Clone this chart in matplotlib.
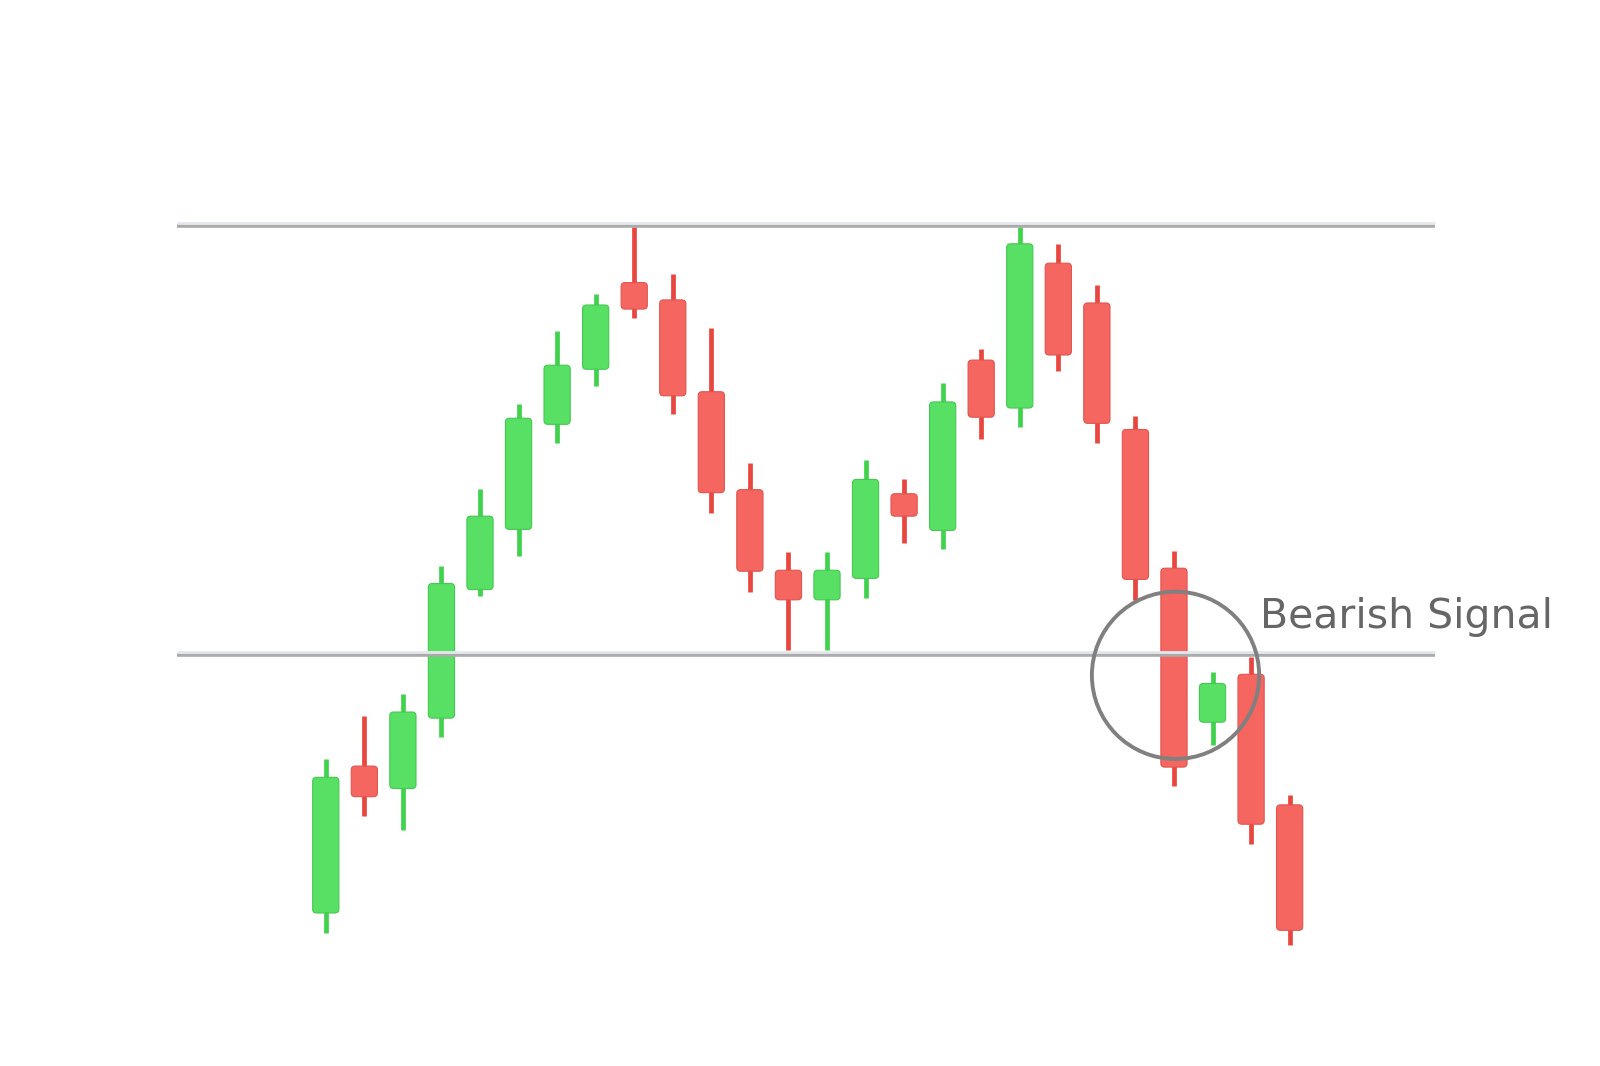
import numpy as np
import matplotlib.pyplot as plt
from matplotlib.patches import FancyBboxPatch, Ellipse

# candle data (price units)
opens  = [15.0, 29.4, 27.2, 34.1, 46.7, 52.6, 62.9, 68.3, 76.8, 75.1,
          66.1, 56.5, 48.6, 45.7, 47.8, 56.1, 52.5, 69.2, 64.5, 78.7,
          74.8, 62.4, 48.8, 33.7, 38.4, 25.6]
closes = [28.3, 26.4, 34.7, 47.3, 53.9, 63.5, 68.7, 74.6, 74.2, 65.7,
          56.2, 48.5, 45.7, 48.6, 57.5, 53.9, 65.1, 63.6, 80.6, 69.7,
          63.0, 47.7, 29.3, 37.5, 23.7, 13.3]
highs  = [30.1, 34.3, 36.5, 49.0, 56.6, 64.9, 72.1, 75.7, 82.2, 77.6,
          72.3, 59.1, 50.4, 50.4, 59.4, 57.5, 67.0, 70.3, 82.2, 80.6,
          76.6, 63.7, 50.5, 38.6, 40.1, 26.6]
lows   = [13.0, 24.5, 23.1, 32.3, 46.1, 50.0, 61.1, 66.7, 73.3, 63.9,
          54.2, 46.5, 40.8, 40.8, 45.9, 51.3, 50.7, 61.5, 62.6, 68.1,
          61.1, 45.7, 27.4, 31.5, 21.8, 11.9]

resistance = 82.5
support = 40.4
signal_label = "Bearish Signal"

green, green_wick, green_edge = "#57e063", "#40d24d", "#45c852"
red, red_wick, red_edge = "#f4665f", "#e8463f", "#e05550"

fig = plt.figure(figsize=(16, 10.66), dpi=100)
ax = fig.add_axes([0, 0, 1, 1])
ax.set_xlim(-8.45, 33.05)
ax.set_ylim(0, 104.5)
ax.axis("off")

# pixels per data unit, so the rounded corners look round
p0 = ax.transData.transform((0, 0))
p1 = ax.transData.transform((1, 1))
aspect = (p1[0] - p0[0]) / (p1[1] - p0[1])

x = np.arange(len(opens))
width = 0.68
for i in x:
    up = closes[i] >= opens[i]
    wick_c = green_wick if up else red_wick
    ax.vlines(i, lows[i], highs[i], color=wick_c, linewidth=3.4, zorder=2)
    bottom = min(opens[i], closes[i])
    height = abs(closes[i] - opens[i])
    body = FancyBboxPatch((i - width / 2, bottom), width, height,
                          boxstyle="round,pad=0,rounding_size=0.1",
                          mutation_aspect=aspect,
                          facecolor=green if up else red,
                          edgecolor=green_edge if up else red_edge,
                          linewidth=0.8, zorder=3)
    ax.add_patch(body)

# resistance / support lines (light top, grey underside)
for level in [resistance, support]:
    ax.hlines(level - 0.12, -3.86, 28.76, color="#ababab", linewidth=2.6, zorder=5)
    ax.hlines(level + 0.14, -3.86, 28.76, color="#e3e8ed", linewidth=2.0, zorder=6)

# signal circle and label
circle = Ellipse((22.04, 38.3), 2 * 82 / 37.8, 2 * 82 / 10,
                 fill=False, edgecolor="#808080", linewidth=2.8, zorder=7)
ax.add_patch(circle)
ax.text(24.23, 42.9, signal_label, fontsize=29.5, color="#666666",
        va="baseline", ha="left", zorder=8)

fig.savefig("out.png", dpi=100, facecolor="white")
